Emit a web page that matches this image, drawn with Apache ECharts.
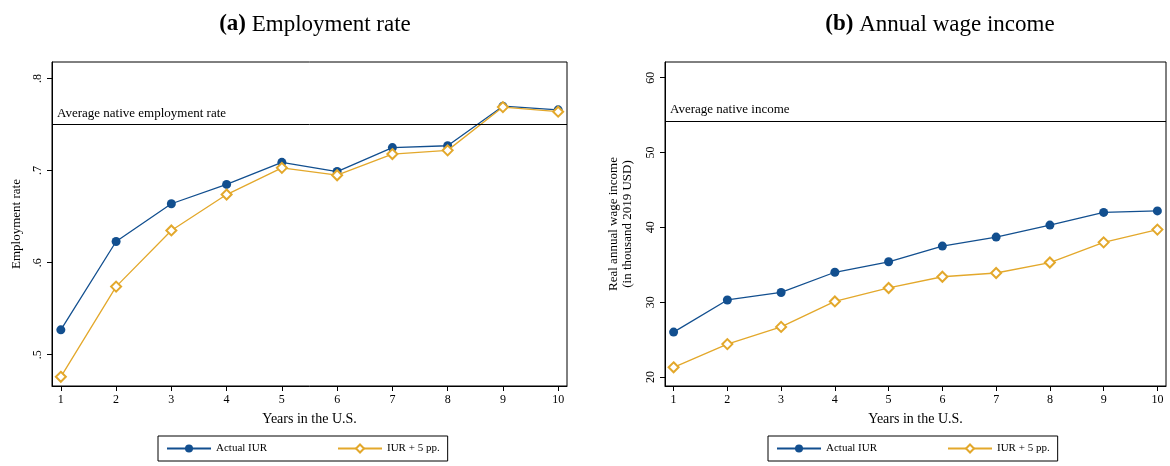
<!DOCTYPE html>
<html><head><meta charset="utf-8">
<script src="https://cdn.jsdelivr.net/npm/echarts@6/dist/echarts.min.js"></script>
<style>body{margin:0;background:#fff}#c{width:1170px;height:466px}</style>
</head><body><div id="c"></div>
<script>
var years = [1, 2, 3, 4, 5, 6, 7, 8, 9, 10];
var empActual = [0.527, 0.623, 0.664, 0.685, 0.709, 0.699, 0.725, 0.727, 0.770, 0.766];
var empPlus5 = [0.476, 0.574, 0.635, 0.674, 0.703, 0.695, 0.718, 0.722, 0.769, 0.764];
var empNative = 0.750;
var wageActual = [26.0, 30.3, 31.3, 34.0, 35.4, 37.5, 38.7, 40.3, 42.0, 42.2];
var wagePlus5 = [21.3, 24.4, 26.7, 30.1, 31.9, 33.4, 33.9, 35.3, 38.0, 39.7];
var wageNative = 54.2;
var empTicks = [0.5, 0.6, 0.7, 0.8];
var wageTicks = [20, 30, 40, 50, 60];

var FONT = 'Liberation Serif';
var BLUE = '#124f8f', GOLD = '#e3a82b';
var chart = echarts.init(document.getElementById('c'));

function pairs(v) { return years.map(function (y, i) { return [y, v[i]]; }); }
function xAxis(i) {
  return {
    type: 'value', gridIndex: i, min: 0.84, max: 10.16,
    name: 'Years in the U.S.', nameLocation: 'middle', nameGap: 26,
    nameTextStyle: { fontFamily: FONT, fontSize: 14, color: '#000' },
    axisLine: { lineStyle: { color: '#000' } },
    axisTick: { customValues: years, length: 5, lineStyle: { color: '#000' } },
    axisLabel: { customValues: years, fontFamily: FONT, fontSize: 12, color: '#000' },
    splitLine: { show: false }
  };
}
function yAxis(i, min, max, ticks, fmt, name, gap) {
  return {
    type: 'value', gridIndex: i, min: min, max: max,
    name: name, nameLocation: 'middle', nameGap: gap,
    nameTextStyle: { fontFamily: FONT, fontSize: 13, color: '#000', lineHeight: 14 },
    axisLine: { show: true, lineStyle: { color: '#000' } },
    axisTick: { show: true, customValues: ticks, length: 5, lineStyle: { color: '#000' } },
    axisLabel: { customValues: ticks, rotate: 90, fontFamily: FONT, fontSize: 12, color: '#000', formatter: fmt },
    splitLine: { show: false }
  };
}
function series(name, data, i, filled, native, label) {
  var s = {
    name: name, type: 'line', xAxisIndex: i, yAxisIndex: i, data: pairs(data),
    symbol: filled ? 'circle' : 'emptyDiamond', symbolSize: filled ? 9 : 10,
    lineStyle: { width: 1.3, color: filled ? BLUE : GOLD },
    itemStyle: { color: filled ? BLUE : GOLD, borderWidth: filled ? 0 : 1.3 },
    z: filled ? 3 : 4
  };
  if (native !== undefined) {
    s.markLine = {
      silent: true, symbol: 'none',
      lineStyle: { color: '#000', type: 'solid', width: 1 },
      label: { position: 'insideStartTop', formatter: label, fontFamily: FONT, fontSize: 13, color: '#000' },
      data: [{ yAxis: native }]
    };
  }
  return s;
}
function legend(left) {
  return {
    left: left, top: 436, itemGap: 70, itemWidth: 44, itemHeight: 10,
    borderColor: '#000', borderWidth: 1, padding: [7, 8],
    textStyle: { fontFamily: FONT, fontSize: 11, color: '#000' },
    data: ['Actual IUR', 'IUR + 5 pp.']
  };
}

chart.setOption({
  animation: false,
  title: [
    { text: '{b|(a)} Employment rate', left: 310, textAlign: 'center', top: 8,
      textStyle: { fontFamily: FONT, fontSize: 23, fontWeight: 'normal', color: '#000', rich: { b: { fontFamily: FONT, fontSize: 23, fontWeight: 'bold' } } } },
    { text: '{b|(b)} Annual wage income', left: 935, textAlign: 'center', top: 8,
      textStyle: { fontFamily: FONT, fontSize: 23, fontWeight: 'normal', color: '#000', rich: { b: { fontFamily: FONT, fontSize: 23, fontWeight: 'bold' } } } }
  ],
  legend: [legend(158), legend(768)],
  grid: [
    { left: 52, width: 515, top: 62, height: 324, show: true, borderColor: '#000', borderWidth: 1 },
    { left: 665, width: 501, top: 62, height: 324, show: true, borderColor: '#000', borderWidth: 1 }
  ],
  xAxis: [xAxis(0), xAxis(1)],
  yAxis: [
    yAxis(0, 0.466, 0.818, empTicks, function (v) { return String(v).replace(/^0/, ''); }, 'Employment rate', 28),
    yAxis(1, 18.8, 62.1, wageTicks, null, 'Real annual wage income\n(in thousand 2019 USD)', 30)
  ],
  series: [
    series('Actual IUR', empActual, 0, true, empNative, 'Average native employment rate'),
    series('IUR + 5 pp.', empPlus5, 0, false),
    series('Actual IUR', wageActual, 1, true, wageNative, 'Average native income'),
    series('IUR + 5 pp.', wagePlus5, 1, false)
  ]
});
</script></body></html>
